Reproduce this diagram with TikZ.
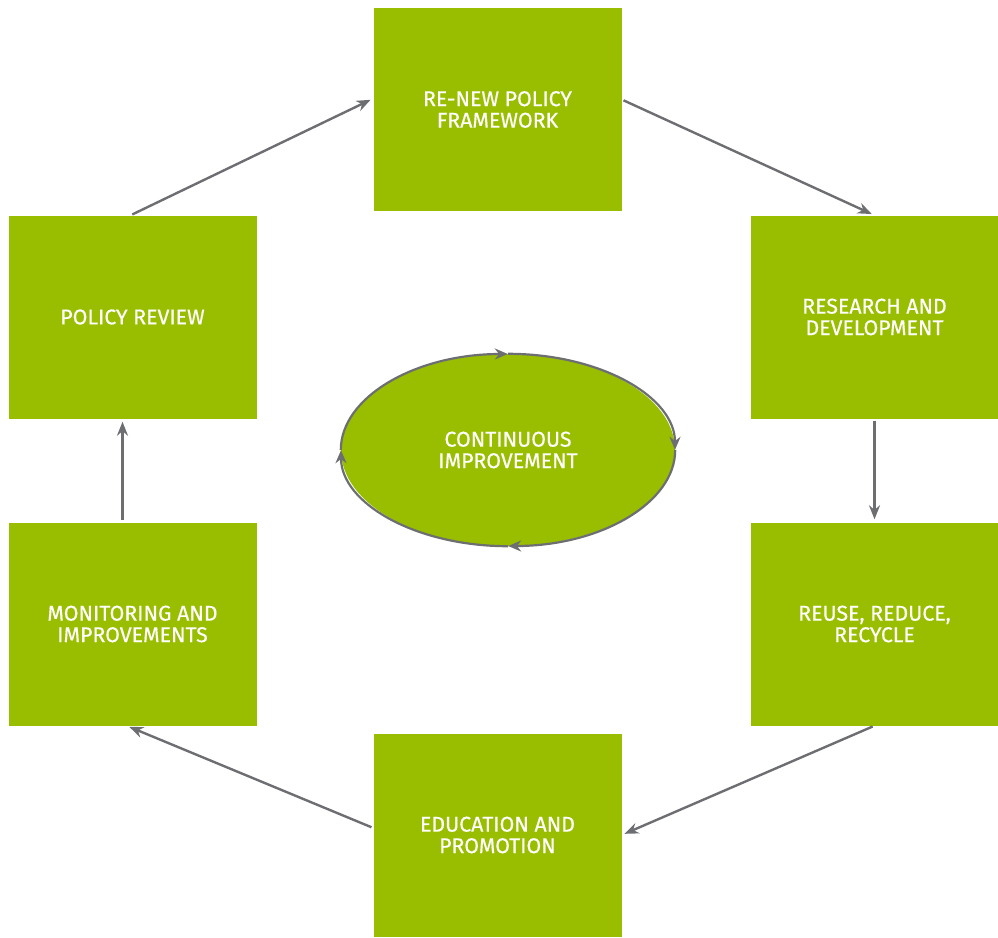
\documentclass[tikz,border=0pt]{standalone}
\usepackage{fontspec}
\setmainfont{Fira Sans}
\newfontfamily\stagefont{Fira Sans}[FakeBold=0.5]
\usetikzlibrary{arrows.meta,shapes.geometric}
\definecolor{leaf}{HTML}{99BE00}
\definecolor{arrowgray}{HTML}{6D6E71}
\begin{document}
\begin{tikzpicture}[x=1pt,y=-1pt,
    stage/.style={fill=leaf,minimum width=248pt,minimum height=203pt,
      inner sep=0pt,text=white,align=center,
      font=\stagefont\fontsize{21.3}{21.5}\selectfont},
    flow/.style={draw=arrowgray,line width=2.4pt,
      -{Stealth[length=14pt,width=11pt]},shorten >=3pt,shorten <=2pt},
    loop/.style={draw=arrowgray,line width=2.2pt,
      -{Stealth[length=13pt,width=11pt]}}]
  \useasboundingbox (0,0) rectangle (998,937);
  % the six stages
  \node[stage] (renew)    at (497.5,109.5) {RE-NEW POLICY\\FRAMEWORK};
  \node[stage] (research) at (874.5,317)   {RESEARCH AND\\DEVELOPMENT};
  \node[stage] (reuse)    at (874.5,624)   {REUSE, REDUCE,\\RECYCLE};
  \node[stage] (edu)      at (497.5,835)   {EDUCATION AND\\PROMOTION};
  \node[stage] (monitor)  at (132.5,624)   {MONITORING AND\\IMPROVEMENTS};
  \node[stage] (review)   at (132.5,317)   {POLICY REVIEW};
  % centre
  \node[ellipse,fill=leaf,minimum width=334pt,minimum height=192pt,
    inner sep=0pt,text=white,align=center,
    font=\stagefont\fontsize{21.3}{21.5}\selectfont] (cycle) at (508,450)
    {CONTINUOUS\\IMPROVEMENT};
  \foreach \a/\s in {north/-90, east/0, south/90, west/180}{%
    \draw[loop] (cycle.\a) arc[start angle=\s, delta angle=90,
      x radius=167, y radius=96];
  }
  % connectors
  \draw[flow] ([yshift=10pt]renew.east) -- (research.north);
  \draw[flow] (research.south) -- (reuse.north);
  \draw[flow] (reuse.south) -- (edu.east);
  \draw[flow] ([yshift=7pt]edu.west) -- ([xshift=-6pt]monitor.south);
  \draw[flow] ([xshift=-10pt]monitor.north) -- ([xshift=-10pt]review.south);
  \draw[flow] ([xshift=-2pt]review.north) -- ([yshift=11pt]renew.west);
\end{tikzpicture}
\end{document}
